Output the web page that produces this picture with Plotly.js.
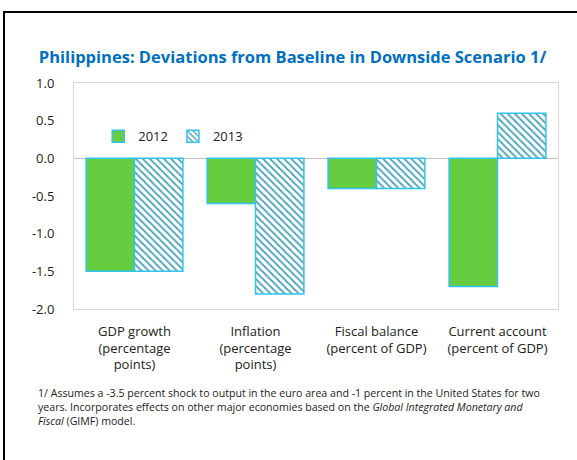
<!DOCTYPE html>
<html><head><meta charset="utf-8">
<script src="https://cdn.plot.ly/plotly-3.0.1.min.js"></script>
<style>
html,body{margin:0;padding:0;background:#fff;}
#wrap{position:relative;width:577px;height:460px;}
#frame{position:absolute;left:3px;top:11px;width:574px;height:449px;border-top:2px solid #000;border-left:2px solid #000;box-sizing:border-box;pointer-events:none;z-index:5;}
#chart{position:absolute;left:0;top:0;width:577px;height:460px;}
</style></head>
<body><div id="wrap"><div id="chart"></div><div id="frame"></div></div>
<script>
const categories = ["GDP growth<br>(percentage<br>points)", "Inflation<br>(percentage<br>points)", "Fiscal balance<br>(percent of GDP)", "Current account<br>(percent of GDP)"];
const series2012 = [-1.5, -0.6, -0.4, -1.7];
const series2013 = [-1.5, -1.8, -0.4, 0.6];
const yTicks = [1.0, 0.5, 0.0, -0.5, -1.0, -1.5, -2.0];
const yTickLabels = ["1.0", "0.5", "0.0", "-0.5", "-1.0", "-1.5", "-2.0"];

const fontFam = "Open Sans, Noto Sans, sans-serif";
const traces = [
  {type:'bar', name:'2012', x:categories, y:series2012,
   marker:{color:'#66CC40', line:{color:'#33C3F0', width:1.5}}},
  {type:'bar', name:'2013', x:categories, y:series2013,
   marker:{color:'#ffffff', line:{color:'#33C3F0', width:1.5},
     pattern:{shape:'\\', fgcolor:'#4BA3B8', bgcolor:'#ffffff', size:5, solidity:0.35}}}
];
const layout = {
  width:577, height:460,
  margin:{l:74, r:19, t:83, b:151},
  paper_bgcolor:'#fff', plot_bgcolor:'#fff',
  font:{family:fontFam, size:12.5, color:'#222'},
  title:{text:'<b>Philippines: Deviations from Baseline in Downside Scenario 1/</b>',
    font:{family:fontFam, size:16.5, color:'#0070C0'},
    xref:'container', x:0.507, xanchor:'center', yref:'container', y:0.876, yanchor:'middle'},
  barmode:'group', bargap:0.2, bargroupgap:0,
  showlegend:true,
  legend:{orientation:'h', x:0.05, y:0.83, xanchor:'left', yanchor:'top',
    font:{family:fontFam, size:13, color:'#222'}, bgcolor:'rgba(0,0,0,0)', itemwidth:30},
  xaxis:{showline:true, mirror:true, linecolor:'#d9d9d9', linewidth:1, ticks:'', showgrid:false,
    tickfont:{family:fontFam, size:13, color:'#222'}, ticklabelstandoff:10, fixedrange:true},
  yaxis:{range:[-2.0, 1.0], tickvals:yTicks, ticktext:yTickLabels, showline:true, mirror:true,
    linecolor:'#d9d9d9', linewidth:1, ticks:'', showgrid:false, zeroline:true, zerolinecolor:'#bfbfbf',
    zerolinewidth:1.2, tickfont:{family:fontFam, size:13, color:'#222'}, ticklabelstandoff:16},
  annotations:[{
    xref:'paper', yref:'paper', x:(36-74)/484, y:(309-384)/226, xanchor:'left', yanchor:'top', align:'left',
    showarrow:false, font:{family:fontFam, size:10.6, color:'#222'},
    text:'1/ Assumes a -3.5 percent shock to output in the euro area and -1 percent in the United States for two<br>years. Incorporates effects on other major economies based on the <i>Global Integrated Monetary and</i><br><i>Fiscal</i> (GIMF) model.'
  }]
};
Plotly.newPlot('chart', traces, layout, {displayModeBar:false, staticPlot:true});
</script></body></html>
